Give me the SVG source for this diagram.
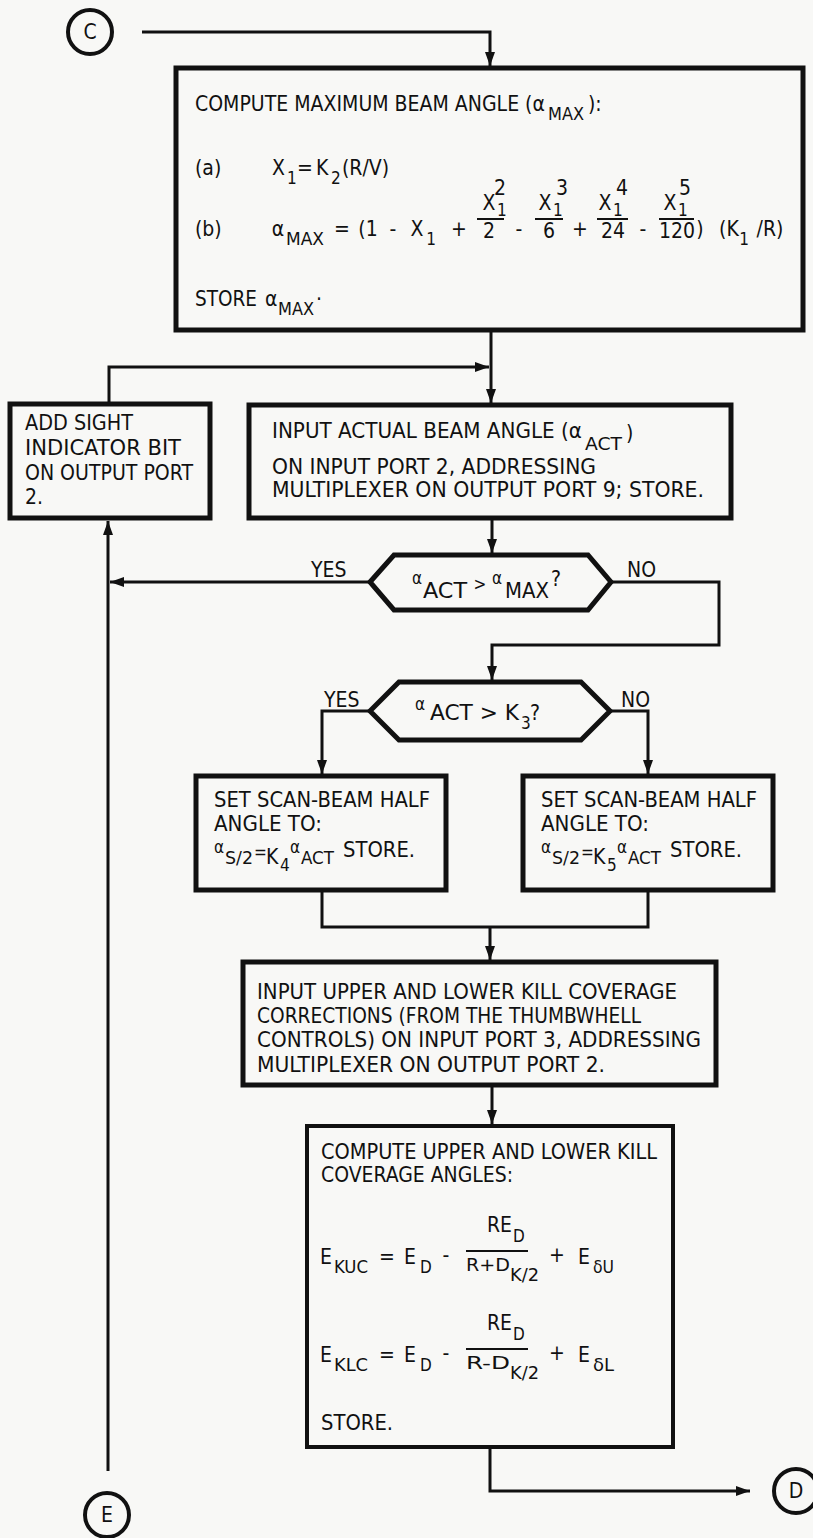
<svg xmlns="http://www.w3.org/2000/svg" width="813" height="1538" viewBox="0 0 813 1538">
<defs>
<style>
text{font-family:"Liberation Sans Narrow","DejaVu Sans Condensed","Liberation Sans",sans-serif;font-size:21px;fill:#111}
.s{font-size:17px}
.m{text-anchor:middle}
.box{fill:none;stroke:#111;stroke-width:5}
.thin{fill:none;stroke:#111;stroke-width:4}
.con{fill:none;stroke:#111;stroke-width:3}
.bar{stroke:#111;stroke-width:2}
</style>
<marker id="ah" viewBox="0 0 14 10" refX="14" refY="5" markerWidth="14" markerHeight="10" markerUnits="userSpaceOnUse" orient="auto"><path d="M0,0 L14,5 L0,10 z" fill="#111"/></marker>
</defs>
<rect width="813" height="1538" fill="#f8f8f6"/>

<g id="connectors" class="con">
<path d="M142,32 H490 V66" marker-end="url(#ah)"/>
<path d="M491,332 V403" marker-end="url(#ah)"/>
<path d="M109,402 V367 H489" marker-end="url(#ah)"/>
<path d="M492,520 V553" marker-end="url(#ah)"/>
<path d="M370,582 H110" marker-end="url(#ah)"/>
<path d="M108,1471 V521" marker-end="url(#ah)"/>
<path d="M611,582 H719 V645 H492 V680" marker-end="url(#ah)"/>
<path d="M370,711 H322 V774" marker-end="url(#ah)"/>
<path d="M610,711 H648 V774" marker-end="url(#ah)"/>
<path d="M322,892 V927 H648 V892"/>
<path d="M490,927 V960" marker-end="url(#ah)"/>
<path d="M492,1087 V1124" marker-end="url(#ah)"/>
<path d="M490,1449 V1491 H750" marker-end="url(#ah)"/>
</g>

<g id="conn-C">
<circle cx="90" cy="32" r="22" class="thin"/>
<text x="90" y="39" class="m">C</text>
</g>

<g id="box-max">
<rect x="176" y="68" width="627" height="262" class="box"/>
<text x="195" y="111" textLength="350" lengthAdjust="spacingAndGlyphs">COMPUTE MAXIMUM BEAM ANGLE (α</text>
<text x="548" y="120" class="s" textLength="36" lengthAdjust="spacingAndGlyphs">MAX</text>
<text x="588" y="111">):</text>
<text x="195" y="175">(a)</text>
<text x="272" y="175">X</text>
<text x="287" y="184" class="s">1</text>
<text x="297" y="175">=</text>
<text x="316" y="175">K</text>
<text x="331" y="184" class="s">2</text>
<text x="342" y="175">(R/V)</text>
<text x="500" y="195" class="m">2</text>
<text x="562" y="195" class="m">3</text>
<text x="622" y="195" class="m">4</text>
<text x="685" y="195" class="m">5</text>
<text x="489" y="210" class="m">X</text>
<text x="497" y="216" class="s">1</text>
<text x="545" y="210" class="m">X</text>
<text x="553" y="216" class="s">1</text>
<text x="605" y="210" class="m">X</text>
<text x="613" y="216" class="s">1</text>
<text x="670" y="210" class="m">X</text>
<text x="678" y="216" class="s">1</text>
<line x1="477" y1="219" x2="504" y2="219" class="bar"/>
<line x1="535" y1="219" x2="563" y2="219" class="bar"/>
<line x1="597" y1="219" x2="628" y2="219" class="bar"/>
<line x1="659" y1="219" x2="694" y2="219" class="bar"/>
<text x="489" y="238" class="m">2</text>
<text x="549" y="238" class="m">6</text>
<text x="613" y="238" class="m">24</text>
<text x="677" y="238" class="m">120</text>
<text x="195" y="236">(b)</text>
<text x="278" y="236" class="m">α</text>
<text x="286" y="245" class="s" textLength="38" lengthAdjust="spacingAndGlyphs">MAX</text>
<text x="342" y="236" class="m">=</text>
<text x="368" y="236" class="m">(1</text>
<text x="393" y="236" class="m">-</text>
<text x="417" y="236" class="m">X</text>
<text x="431" y="245" class="s m">1</text>
<text x="459" y="236" class="m">+</text>
<text x="519" y="236" class="m">-</text>
<text x="580" y="236" class="m">+</text>
<text x="643" y="236" class="m">-</text>
<text x="700" y="236" class="m">)</text>
<text x="729" y="236" class="m">(K</text>
<text x="744" y="245" class="s m">1</text>
<text x="770" y="236" class="m">/R)</text>
<text x="195" y="306" textLength="62" lengthAdjust="spacingAndGlyphs">STORE</text>
<text x="265" y="306">α</text>
<text x="278" y="315" class="s" textLength="36" lengthAdjust="spacingAndGlyphs">MAX</text>
<text x="316" y="306">·</text>
</g>

<g id="box-sight">
<rect x="10" y="404" width="200" height="114" class="box"/>
<text x="25" y="430" textLength="108" lengthAdjust="spacingAndGlyphs">ADD SIGHT</text>
<text x="25" y="455" textLength="156" lengthAdjust="spacingAndGlyphs">INDICATOR BIT</text>
<text x="25" y="480" textLength="168" lengthAdjust="spacingAndGlyphs">ON OUTPUT PORT</text>
<text x="25" y="504">2.</text>
</g>

<g id="box-input-act">
<rect x="249" y="405" width="482" height="113" class="box"/>
<text x="272" y="438" textLength="310" lengthAdjust="spacingAndGlyphs">INPUT ACTUAL BEAM ANGLE (α</text>
<text x="585" y="450" class="s" textLength="37" lengthAdjust="spacingAndGlyphs">ACT</text>
<text x="626" y="440">)</text>
<text x="272" y="474" textLength="324" lengthAdjust="spacingAndGlyphs">ON INPUT PORT 2, ADDRESSING</text>
<text x="272" y="497" textLength="432" lengthAdjust="spacingAndGlyphs">MULTIPLEXER ON OUTPUT PORT 9; STORE.</text>
</g>

<g id="dec-max">
<polygon points="370,582 394,555 588,555 611,582 588,610 394,610" class="box"/>
<text x="417" y="584" class="s m">α</text>
<text x="423" y="598" textLength="44" lengthAdjust="spacingAndGlyphs">ACT</text>
<text x="480" y="590" class="s m">&gt;</text>
<text x="497" y="584" class="s m">α</text>
<text x="505" y="598" textLength="44" lengthAdjust="spacingAndGlyphs">MAX</text>
<text x="551" y="586">?</text>
<text x="311" y="577">YES</text>
<text x="627" y="577">NO</text>
</g>

<g id="dec-k3">
<polygon points="370,711 399,682 581,682 610,711 581,740 399,740" class="box"/>
<text x="420" y="710" class="s m">α</text>
<text x="430" y="720" textLength="89" lengthAdjust="spacingAndGlyphs">ACT &gt; K</text>
<text x="521" y="729" class="s">3</text>
<text x="530" y="720">?</text>
<text x="324" y="707">YES</text>
<text x="621" y="707">NO</text>
</g>

<g id="box-k4">
<rect x="196" y="776" width="250" height="114" class="box"/>
<text x="214" y="807" textLength="216" lengthAdjust="spacingAndGlyphs">SET SCAN-BEAM HALF</text>
<text x="214" y="831" textLength="108" lengthAdjust="spacingAndGlyphs">ANGLE TO:</text>
<text x="214" y="853" class="s">α</text>
<text x="225" y="864" class="s" textLength="28" lengthAdjust="spacingAndGlyphs">S/2</text>
<text x="254" y="858" class="s">=</text>
<text x="266" y="864">K</text>
<text x="280" y="871" class="s">4</text>
<text x="290" y="853" class="s">α</text>
<text x="301" y="864" class="s" textLength="33" lengthAdjust="spacingAndGlyphs">ACT</text>
<text x="343" y="857" textLength="72" lengthAdjust="spacingAndGlyphs">STORE.</text>
</g>

<g id="box-k5">
<rect x="523" y="776" width="250" height="114" class="box"/>
<text x="541" y="807" textLength="216" lengthAdjust="spacingAndGlyphs">SET SCAN-BEAM HALF</text>
<text x="541" y="831" textLength="108" lengthAdjust="spacingAndGlyphs">ANGLE TO:</text>
<text x="541" y="853" class="s">α</text>
<text x="552" y="864" class="s" textLength="28" lengthAdjust="spacingAndGlyphs">S/2</text>
<text x="581" y="858" class="s">=</text>
<text x="593" y="864">K</text>
<text x="607" y="871" class="s">5</text>
<text x="617" y="853" class="s">α</text>
<text x="628" y="864" class="s" textLength="33" lengthAdjust="spacingAndGlyphs">ACT</text>
<text x="670" y="857" textLength="72" lengthAdjust="spacingAndGlyphs">STORE.</text>
</g>

<g id="box-corrections">
<rect x="243" y="962" width="473" height="123" class="box"/>
<text x="257" y="999" textLength="420" lengthAdjust="spacingAndGlyphs">INPUT UPPER AND LOWER KILL COVERAGE</text>
<text x="257" y="1023" textLength="384" lengthAdjust="spacingAndGlyphs">CORRECTIONS (FROM THE THUMBWHELL</text>
<text x="257" y="1047" textLength="444" lengthAdjust="spacingAndGlyphs">CONTROLS) ON INPUT PORT 3, ADDRESSING</text>
<text x="257" y="1072" textLength="348" lengthAdjust="spacingAndGlyphs">MULTIPLEXER ON OUTPUT PORT 2.</text>
</g>

<g id="box-kill">
<rect x="307" y="1126" width="366" height="321" class="thin"/>
<text x="321" y="1159" textLength="336" lengthAdjust="spacingAndGlyphs">COMPUTE UPPER AND LOWER KILL</text>
<text x="321" y="1182" textLength="192" lengthAdjust="spacingAndGlyphs">COVERAGE ANGLES:</text>
<text x="320" y="1264">E</text>
<text x="334" y="1273" class="s" textLength="34" lengthAdjust="spacingAndGlyphs">KUC</text>
<text x="387" y="1264" class="m">=</text>
<text x="404" y="1264">E</text>
<text x="420" y="1273" class="s">D</text>
<text x="446" y="1262" class="m">-</text>
<text x="487" y="1232" textLength="25" lengthAdjust="spacingAndGlyphs">RE</text>
<text x="513" y="1242" class="s">D</text>
<line x1="466" y1="1251" x2="528" y2="1251" class="bar"/>
<text x="466" y="1271" class="s" textLength="44" lengthAdjust="spacingAndGlyphs">R+D</text>
<text x="510" y="1281" class="s" textLength="29" lengthAdjust="spacingAndGlyphs">K/2</text>
<text x="557" y="1262" class="m">+</text>
<text x="578" y="1264">E</text>
<text x="593" y="1273" class="s" textLength="21" lengthAdjust="spacingAndGlyphs">δU</text>
<text x="320" y="1362">E</text>
<text x="334" y="1371" class="s" textLength="34" lengthAdjust="spacingAndGlyphs">KLC</text>
<text x="387" y="1362" class="m">=</text>
<text x="404" y="1362">E</text>
<text x="420" y="1371" class="s">D</text>
<text x="446" y="1360" class="m">-</text>
<text x="487" y="1330" textLength="25" lengthAdjust="spacingAndGlyphs">RE</text>
<text x="513" y="1340" class="s">D</text>
<line x1="466" y1="1349" x2="528" y2="1349" class="bar"/>
<text x="466" y="1369" class="s" textLength="44" lengthAdjust="spacingAndGlyphs">R-D</text>
<text x="510" y="1379" class="s" textLength="29" lengthAdjust="spacingAndGlyphs">K/2</text>
<text x="557" y="1360" class="m">+</text>
<text x="578" y="1362">E</text>
<text x="593" y="1371" class="s" textLength="21" lengthAdjust="spacingAndGlyphs">δL</text>
<text x="321" y="1430" textLength="72" lengthAdjust="spacingAndGlyphs">STORE.</text>
</g>

<g id="conn-D">
<circle cx="796" cy="1491" r="22" class="thin"/>
<text x="796" y="1498" class="m">D</text>
</g>

<g id="conn-E">
<circle cx="107" cy="1515" r="22" class="thin"/>
<text x="107" y="1522" class="m">E</text>
</g>
</svg>
